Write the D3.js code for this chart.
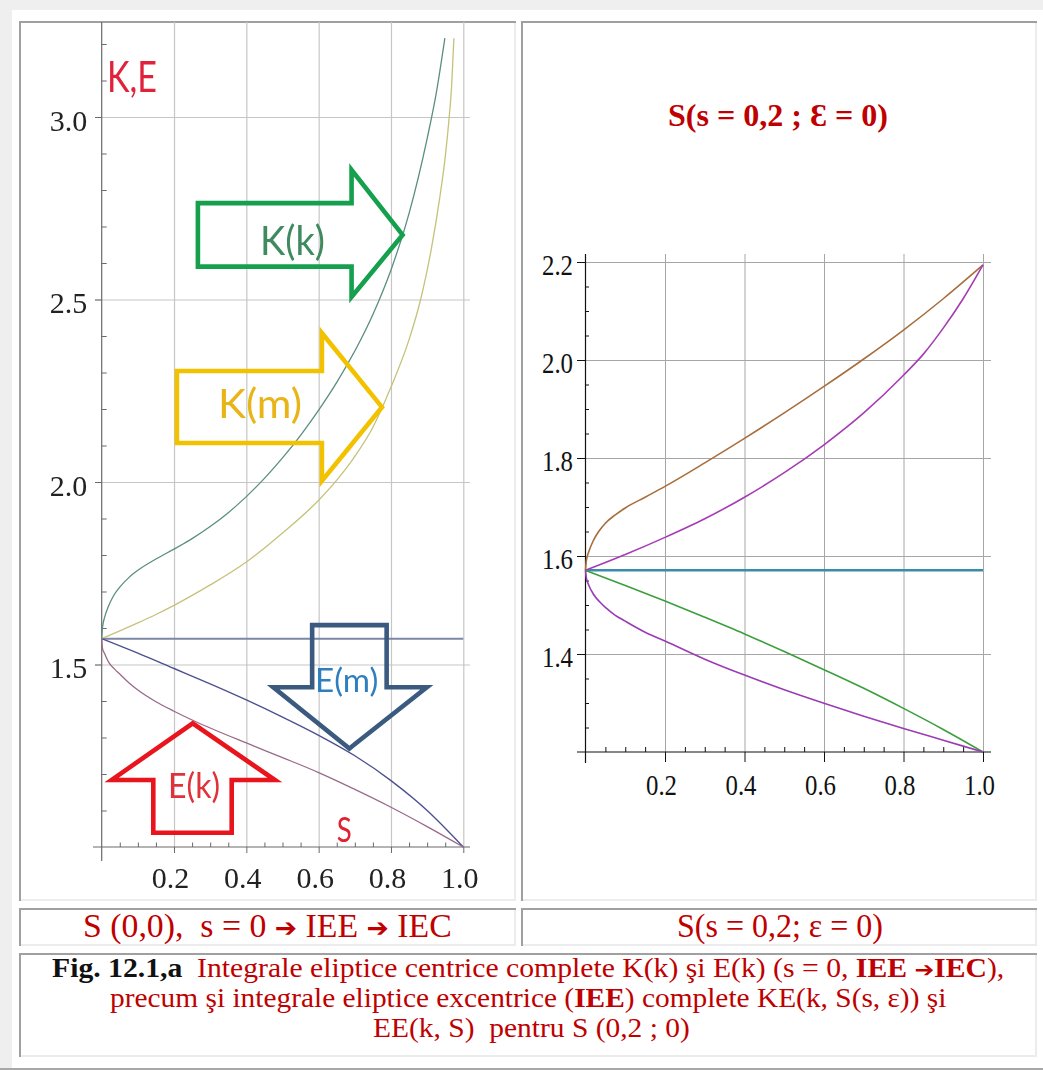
<!DOCTYPE html>
<html>
<head>
<meta charset="utf-8">
<script src="https://cdn.jsdelivr.net/npm/d3@7"></script>
<style>
  html, body { margin: 0; padding: 0; background: #ffffff; }
  svg { display: block; }
  text { white-space: pre; }
</style>
</head>
<body>
<svg id="fig" width="1043" height="1070"></svg>
<script>
// ---------------- data: left panel (complete integrals, s = 0) ----------------
const leftKkX = [0, 0.002, 0.008, 0.018, 0.032, 0.05, 0.075, 0.1, 0.15, 0.2, 0.25, 0.3, 0.35, 0.4, 0.45, 0.5, 0.55, 0.6, 0.65, 0.7, 0.75, 0.8, 0.85, 0.9, 0.925, 0.949];
const leftKkY = [1.5708, 1.6, 1.629, 1.658, 1.687, 1.712, 1.738, 1.758, 1.789, 1.816, 1.845, 1.878, 1.916, 1.96, 2.01, 2.066, 2.128, 2.197, 2.273, 2.359, 2.459, 2.581, 2.736, 2.941, 3.064, 3.216];
const leftKmX = [0, 0.05, 0.1, 0.15, 0.2, 0.3, 0.4, 0.5, 0.6, 0.65, 0.7, 0.75, 0.8, 0.85, 0.882, 0.91, 0.935, 0.95, 0.961, 0.968, 0.974];
const leftKmY = [1.5708, 1.592, 1.614, 1.637, 1.662, 1.718, 1.781, 1.86, 1.95, 2.005, 2.07, 2.15, 2.26, 2.39, 2.5, 2.63, 2.78, 2.89, 3.0, 3.09, 3.216];
const leftConstX = [0, 1];
const leftConstY = [1.5708, 1.5708];
const leftEmX = [0, 0.1, 0.2, 0.3, 0.4, 0.5, 0.6, 0.7, 0.8, 0.9, 1];
const leftEmY = [1.5708, 1.531, 1.489, 1.447, 1.403, 1.356, 1.306, 1.25, 1.182, 1.1, 1.0];
const leftEkX = [0, 0.002, 0.008, 0.02, 0.035, 0.05, 0.075, 0.1, 0.15, 0.2, 0.25, 0.3, 0.4, 0.5, 0.6, 0.7, 0.8, 0.9, 1];
const leftEkY = [1.5708, 1.545, 1.53, 1.505, 1.488, 1.474, 1.45, 1.43, 1.398, 1.372, 1.348, 1.326, 1.285, 1.245, 1.204, 1.158, 1.109, 1.056, 1.0];

const leftXTicks = [0.2, 0.4, 0.6, 0.8, 1.0];
const leftXLabels = ["0.2", "0.4", "0.6", "0.8", "1.0"];
const leftYTicks = [1.5, 2.0, 2.5, 3.0];
const leftYLabels = ["1.5", "2.0", "2.5", "3.0"];

// ---------------- data: right panel, S(s = 0,2 ; eps = 0) ----------------
const rightKEupX = [0, 0.002, 0.008, 0.02, 0.035, 0.05, 0.075, 0.1, 0.15, 0.2, 0.3, 0.4, 0.5, 0.6, 0.7, 0.8, 0.9, 1];
const rightKEupY = [1.5708, 1.59, 1.608, 1.632, 1.652, 1.667, 1.684, 1.698, 1.72, 1.742, 1.79, 1.84, 1.892, 1.946, 2.002, 2.061, 2.125, 2.194];
const rightKEX = [0, 0.1, 0.2, 0.3, 0.4, 0.5, 0.6, 0.7, 0.8, 0.85, 0.9, 0.95, 1];
const rightKEY = [1.5708, 1.603, 1.638, 1.676, 1.72, 1.77, 1.827, 1.892, 1.969, 2.012, 2.065, 2.125, 2.194];
const rightConstX = [0, 1];
const rightConstY = [1.5708, 1.5708];
const rightEEX = [0, 0.1, 0.2, 0.3, 0.4, 0.5, 0.6, 0.7, 0.8, 0.9, 1];
const rightEEY = [1.5708, 1.54, 1.508, 1.475, 1.441, 1.405, 1.368, 1.33, 1.289, 1.246, 1.2];
const rightEElowX = [0, 0.002, 0.008, 0.02, 0.035, 0.05, 0.075, 0.1, 0.15, 0.2, 0.3, 0.4, 0.5, 0.6, 0.7, 0.8, 0.9, 1];
const rightEElowY = [1.5708, 1.556, 1.541, 1.522, 1.507, 1.495, 1.479, 1.467, 1.4445, 1.4265, 1.3895, 1.357, 1.327, 1.2994, 1.273, 1.248, 1.224, 1.2];

const rightXTicks = [0.2, 0.4, 0.6, 0.8, 1.0];
const rightXLabels = ["0.2", "0.4", "0.6", "0.8", "1.0"];
const rightYTicks = [1.4, 1.6, 1.8, 2.0, 2.2];
const rightYLabels = ["1.4", "1.6", "1.8", "2.0", "2.2"];

// ---------------- page scaffolding ----------------
const svg = d3.select("#fig");
const SERIF = "'Liberation Serif', 'Times New Roman', serif";
const SANS = "Lato, 'Open Sans', sans-serif";
const RED = "#c00000";

const defs = svg.append("defs");
defs.append("filter").attr("id", "soft")
  .attr("x", "-5%").attr("y", "-5%").attr("width", "110%").attr("height", "110%")
  .append("feGaussianBlur").attr("stdDeviation", 0.55);

svg.append("rect").attr("width", 1043).attr("height", 1070).attr("fill", "#ffffff");
svg.append("rect").attr("x", 0).attr("y", 0).attr("width", 1043).attr("height", 10).attr("fill", "#efefef");
svg.append("rect").attr("x", 0).attr("y", 0).attr("width", 12).attr("height", 1070).attr("fill", "#efefef");
svg.append("rect").attr("x", 0).attr("y", 1068).attr("width", 1043).attr("height", 2).attr("fill", "#a8a8a8");

// inset table cell: dark top/left edge, pale bottom/right edge
function cell(x0, y0, x1, y1) {
  const g = svg.append("g");
  g.append("rect").attr("x", x0).attr("y", y1 - 2).attr("width", x1 - x0).attr("height", 2).attr("fill", "#ececec");
  g.append("rect").attr("x", x1 - 2).attr("y", y0).attr("width", 2).attr("height", y1 - y0).attr("fill", "#ececec");
  g.append("rect").attr("x", x0).attr("y", y0).attr("width", x1 - x0).attr("height", 2).attr("fill", "#a0a0a0");
  g.append("rect").attr("x", x0).attr("y", y0).attr("width", 2).attr("height", y1 - y0).attr("fill", "#a0a0a0");
}
cell(19, 21, 516, 901);
cell(521, 21, 1037, 901);
cell(19, 908, 516, 946);
cell(521, 908, 1037, 946);
cell(19, 953, 1037, 1057);

// stretch/squeeze a text element horizontally so it spans [x0, x1]
function fit(sel, x0, x1) {
  const b = sel.node().getBBox();
  const s = (x1 - x0) / b.width;
  sel.attr("transform", `translate(${x0},0) scale(${s},1) translate(${-b.x},0)`);
}
const zip = (xs, ys) => xs.map((x, i) => [x, ys[i]]);

// ================= left panel =================
const xL = d3.scaleLinear().domain([0, 1]).range([101.7, 463.3]);
const yL = d3.scaleLinear().domain([1, 3]).range([847, 117]);
const gL = svg.append("g").attr("filter", "url(#soft)");

// grid
gL.append("g").attr("transform", `translate(0,${yL(1)})`)
  .call(d3.axisBottom(xL).tickValues(leftXTicks).tickSize(-(yL(1) - 22)).tickFormat(""))
  .call(g => g.select(".domain").remove())
  .call(g => g.selectAll("line").attr("stroke", "#c6c6c6").attr("stroke-width", 1.2));
gL.append("g").attr("transform", "translate(95,0)")
  .call(d3.axisLeft(yL).tickValues(leftYTicks).tickSize(-(470 - 95)).tickFormat(""))
  .call(g => g.select(".domain").remove())
  .call(g => g.selectAll("line").attr("stroke", "#c6c6c6").attr("stroke-width", 1.2));

// axis lines
const axL = gL.append("g").attr("stroke", "#6a6a6a").attr("stroke-width", 1.2);
axL.append("line").attr("x1", 93).attr("x2", 470).attr("y1", yL(1)).attr("y2", yL(1));
axL.append("line").attr("x1", xL(0)).attr("x2", xL(0)).attr("y1", 22).attr("y2", 861);

// ticks and labels
const leftMinorY = d3.range(1.1, 3.25, 0.1).filter(v => !leftYTicks.some(t => Math.abs(t - v) < 1e-6));
const leftMinorX = d3.range(0.05, 1.0, 0.05).filter(v => !leftXTicks.some(t => Math.abs(t - v) < 1e-6));
gL.append("g").attr("transform", `translate(${xL(0)},0)`)
  .call(d3.axisRight(yL).tickValues(leftMinorY).tickSize(5).tickFormat(""))
  .call(g => g.select(".domain").remove())
  .call(g => g.selectAll("line").attr("stroke", "#6a6a6a"));
gL.append("g").attr("transform", `translate(0,${yL(1)})`)
  .call(d3.axisTop(xL).tickValues(leftMinorX).tickSize(4.5).tickFormat(""))
  .call(g => g.select(".domain").remove())
  .call(g => g.selectAll("line").attr("stroke", "#6a6a6a"));
gL.append("g").attr("transform", `translate(${xL(0)},0)`)
  .call(d3.axisLeft(yL).tickValues(leftYTicks).tickSize(6.7).tickPadding(7.7)
    .tickFormat((d, i) => leftYLabels[i]))
  .call(g => g.select(".domain").remove())
  .call(g => g.selectAll("line").attr("stroke", "#6a6a6a"))
  .call(g => g.selectAll("text").attr("font-family", SERIF).attr("font-size", 30)
    .attr("fill", "#222").attr("dy", "0.44em"));
gL.append("g").attr("transform", `translate(0,${yL(1)})`)
  .call(d3.axisBottom(xL).tickValues(leftXTicks).tickSize(6).tickPadding(13.5)
    .tickFormat((d, i) => leftXLabels[i]))
  .call(g => g.select(".domain").remove())
  .call(g => g.selectAll("line").attr("stroke", "#6a6a6a"))
  .call(g => g.selectAll("text").attr("font-family", SERIF).attr("font-size", 30)
    .attr("fill", "#222").attr("dx", -4));

// curves
const lineL = d3.line().x(d => xL(d[0])).y(d => yL(d[1])).curve(d3.curveMonotoneX);
const leftSeries = [
  { x: leftConstX, y: leftConstY, color: "#7c87a6", w: 2.0 },
  { x: leftKkX, y: leftKkY, color: "#5a8e80", w: 1.3 },
  { x: leftKmX, y: leftKmY, color: "#c6c27a", w: 1.3 },
  { x: leftEmX, y: leftEmY, color: "#4c518e", w: 1.4 },
  { x: leftEkX, y: leftEkY, color: "#9a6a88", w: 1.3 }
];
gL.append("g").selectAll("path").data(leftSeries).join("path")
  .attr("d", s => lineL(zip(s.x, s.y)))
  .attr("fill", "none").attr("stroke", s => s.color).attr("stroke-width", s => s.w);

// block-arrow annotations, placed in the panel's data space
function arrowRight(a) {
  return [[a.x0, a.top], [a.x1, a.top], [a.x1, a.headTop], [a.tipX, a.tipY],
          [a.x1, a.headBot], [a.x1, a.bot], [a.x0, a.bot]];
}
function arrowVertical(a) {
  return [[a.sx0, a.end], [a.sx1, a.end], [a.sx1, a.base], [a.hx1, a.base],
          [a.tipX, a.tipY], [a.hx0, a.base], [a.sx0, a.base]];
}
const arrows = [
  { pts: arrowRight({ x0: 0.266, x1: 0.691, top: 2.764, bot: 2.590, headTop: 2.855, headBot: 2.507, tipX: 0.832, tipY: 2.677 }), color: "#12a04e" },
  { pts: arrowRight({ x0: 0.208, x1: 0.609, top: 2.304, bot: 2.107, headTop: 2.408, headBot: 2.003, tipX: 0.775, tipY: 2.205 }), color: "#f2c200" },
  { pts: arrowVertical({ sx0: 0.582, sx1: 0.788, end: 1.608, base: 1.4375, hx0: 0.4746, hx1: 0.899, tipX: 0.685, tipY: 1.270 }), color: "#3b5a80" },
  { pts: arrowVertical({ sx0: 0.1427, sx1: 0.3595, end: 1.039, base: 1.1836, hx0: 0.0277, hx1: 0.479, tipX: 0.2517, tipY: 1.339 }), color: "#e8141e" }
];
gL.append("g").selectAll("polygon").data(arrows).join("polygon")
  .attr("points", a => a.pts.map(p => [xL(p[0]), yL(p[1])].join(",")).join(" "))
  .attr("fill", "none").attr("stroke", a => a.color).attr("stroke-width", 4.6)
  .attr("stroke-linejoin", "miter");

const leftNotes = [
  { t: "K(k)", x0: 0.4378, x1: 0.6175, base: 2.622, size: 40, color: "#3f8a60" },
  { t: "K(m)", x0: 0.3216, x1: 0.5539, base: 2.1745, size: 41, color: "#e8b418" },
  { t: "E(m)", x0: 0.5899, x1: 0.7649, base: 1.4255, size: 32, color: "#2f7fbf" },
  { t: "E(k)", x0: 0.1834, x1: 0.3272, base: 1.1342, size: 35, color: "#e0303a" },
  { t: "S", x0: 0.6499, x1: 0.6914, base: 1.0145, size: 34, color: "#e02030" },
  { t: "K,E", x0: 0.0147, x1: 0.1529, base: 3.0693, size: 42, color: "#e0203a" }
];
leftNotes.forEach(n => {
  const t = gL.append("text").attr("x", 0).attr("y", yL(n.base))
    .attr("font-family", SANS).attr("font-size", n.size).attr("fill", n.color).text(n.t);
  fit(t, xL(n.x0), xL(n.x1));
});

// ================= right panel =================
const xR = d3.scaleLinear().domain([0, 1]).range([585.5, 983]);
const yR = d3.scaleLinear().domain([1.2, 2.2]).range([752, 262]);
const gR = svg.append("g");

const title = gR.append("text").attr("x", 0).attr("y", 126)
  .attr("font-family", SERIF).attr("font-weight", "bold").attr("font-size", 32).attr("fill", RED)
  .text("S(s = 0,2 ; \u0190 = 0)");
fit(title, 668, 888);

gR.append("g").attr("transform", `translate(0,${yR(1.2)})`)
  .call(d3.axisBottom(xR).tickValues(rightXTicks).tickSize(-(yR(1.2) - 254)).tickFormat(""))
  .call(g => g.select(".domain").remove())
  .call(g => g.selectAll("line").attr("stroke", "#a6a6a6"));
gR.append("g").attr("transform", "translate(577,0)")
  .call(d3.axisLeft(yR).tickValues(rightYTicks).tickSize(-(991 - 577)).tickFormat(""))
  .call(g => g.select(".domain").remove())
  .call(g => g.selectAll("line").attr("stroke", "#a6a6a6"));

const axR = gR.append("g").attr("stroke", "#111").attr("stroke-width", 1.2);
axR.append("line").attr("x1", 577).attr("x2", 991).attr("y1", yR(1.2)).attr("y2", yR(1.2));
axR.append("line").attr("x1", xR(0)).attr("x2", xR(0)).attr("y1", 254).attr("y2", 763);

const rightMinorY = d3.range(1.25, 2.2, 0.05).filter(v => !rightYTicks.some(t => Math.abs(t - v) < 1e-6));
const rightMinorX = d3.range(0.05, 1.0, 0.05).filter(v => !rightXTicks.some(t => Math.abs(t - v) < 1e-6));
gR.append("g").attr("transform", `translate(${xR(0)},0)`)
  .call(d3.axisRight(yR).tickValues(rightMinorY).tickSize(3.5).tickFormat(""))
  .call(g => g.select(".domain").remove())
  .call(g => g.selectAll("line").attr("stroke", "#111"));
gR.append("g").attr("transform", `translate(0,${yR(1.2)})`)
  .call(d3.axisTop(xR).tickValues(rightMinorX).tickSize(5).tickFormat(""))
  .call(g => g.select(".domain").remove())
  .call(g => g.selectAll("line").attr("stroke", "#111"));
gR.append("g").attr("transform", `translate(${xR(0)},0)`)
  .call(d3.axisLeft(yR).tickValues(rightYTicks).tickSize(8.5).tickPadding(4)
    .tickFormat((d, i) => rightYLabels[i]))
  .call(g => g.select(".domain").remove())
  .call(g => g.selectAll("line").attr("stroke", "#111"))
  .call(g => g.selectAll("text").attr("font-family", SERIF).attr("font-size", 29)
    .attr("fill", "#111").attr("dy", "0.44em")
    .attr("textLength", 31).attr("lengthAdjust", "spacingAndGlyphs"));
gR.append("g").attr("transform", `translate(0,${yR(1.2)})`)
  .call(d3.axisBottom(xR).tickValues(rightXTicks).tickSize(10).tickPadding(12.5)
    .tickFormat((d, i) => rightXLabels[i]))
  .call(g => g.select(".domain").remove())
  .call(g => g.selectAll("line").attr("stroke", "#111"))
  .call(g => g.selectAll("text").attr("font-family", SERIF).attr("font-size", 29)
    .attr("fill", "#111").attr("dx", -4)
    .attr("textLength", 31).attr("lengthAdjust", "spacingAndGlyphs"));

const lineR = d3.line().x(d => xR(d[0])).y(d => yR(d[1])).curve(d3.curveMonotoneX);
const rightSeries = [
  { x: rightConstX, y: rightConstY, color: "#3a8ca8", w: 2.4 },
  { x: rightKEupX, y: rightKEupY, color: "#a86e3c", w: 1.6 },
  { x: rightKEX, y: rightKEY, color: "#a63cb4", w: 1.6 },
  { x: rightEEX, y: rightEEY, color: "#3c9e3c", w: 1.6 },
  { x: rightEElowX, y: rightEElowY, color: "#9a3cb4", w: 1.6 }
];
gR.append("g").selectAll("path").data(rightSeries).join("path")
  .attr("d", s => lineR(zip(s.x, s.y)))
  .attr("fill", "none").attr("stroke", s => s.color).attr("stroke-width", s => s.w);

// ================= captions =================
const ARROW = "\u2794";
const capL = svg.append("text").attr("y", 937).attr("font-family", SERIF).attr("font-size", 33).attr("fill", RED);
capL.append("tspan").text("S (0,0),  s = 0 ");
capL.append("tspan").attr("font-family", "'DejaVu Sans', sans-serif").attr("font-size", 26).text(ARROW);
capL.append("tspan").text(" IEE ");
capL.append("tspan").attr("font-family", "'DejaVu Sans', sans-serif").attr("font-size", 26).text(ARROW);
capL.append("tspan").text(" IEC");
fit(capL, 83, 452);

const capR = svg.append("text").attr("y", 937).attr("font-family", SERIF).attr("font-size", 33).attr("fill", RED)
  .text("S(s = 0,2; \u03b5 = 0)");
fit(capR, 677, 883);

const l1 = svg.append("text").attr("y", 977).attr("font-family", SERIF).attr("font-size", 26.5).attr("fill", RED);
l1.append("tspan").attr("font-weight", "bold").attr("fill", "#111").text("Fig. 12.1,a");
l1.append("tspan").text("  Integrale eliptice centrice complete K(k) \u015fi E(k) (s = 0, ");
l1.append("tspan").attr("font-weight", "bold").text("IEE ");
l1.append("tspan").attr("font-family", "'DejaVu Sans', sans-serif").attr("font-size", 21).text(ARROW);
l1.append("tspan").attr("font-weight", "bold").text("IEC");
l1.append("tspan").text("),");
fit(l1, 52, 1005);

const l2 = svg.append("text").attr("y", 1007).attr("font-family", SERIF).attr("font-size", 26.5).attr("fill", RED);
l2.append("tspan").text("precum \u015fi integrale eliptice excentrice (");
l2.append("tspan").attr("font-weight", "bold").text("IEE");
l2.append("tspan").text(") complete KE(k, S(s, \u03b5)) \u015fi");
fit(l2, 110, 947);

const l3 = svg.append("text").attr("y", 1037).attr("font-family", SERIF).attr("font-size", 26.5).attr("fill", RED)
  .text("EE(k, S)  pentru S (0,2 ; 0)");
fit(l3, 373, 690);
</script>
</body>
</html>
